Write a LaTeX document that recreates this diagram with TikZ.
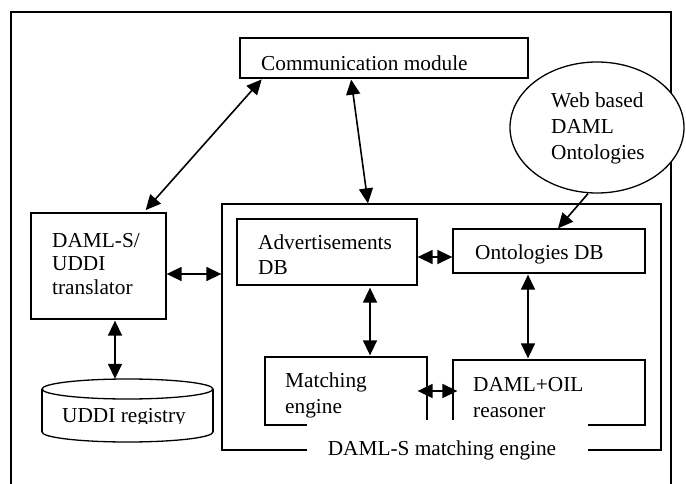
\documentclass[tikz,border=0pt]{standalone}
\usepackage{fontspec}
\setmainfont{Liberation Serif}
\usetikzlibrary{arrows.meta,shapes.geometric}
\begin{document}
\begin{tikzpicture}[x=1pt,y=-1pt,
  lw/.style={line width=1.3pt},
  box/.style={draw,lw,rectangle,inner sep=0pt},
  txt/.style={inner sep=0pt,anchor=base west,align=left,font=\fontsize{21.3}{25}\selectfont},
  tip/.tip={Triangle[length=15pt,width=14pt]},
  arr/.style={line width=1.6pt,tip-tip},
  arrone/.style={line width=1.6pt,-tip}]
\useasboundingbox (0,0) rectangle (686,484);
\fill[white] (0,0) rectangle (686,484);
% outer frame (no bottom edge visible)
\draw[lw] (11,484) -- (11,12) -- (671,12) -- (671,484);

% boxes
\node[box,minimum width=288pt,minimum height=40pt] (comm) at (384,58) {};
\node[draw,lw,ellipse,fill=white,inner sep=0pt,minimum width=174pt,minimum height=131pt] (web) at (597,127.5) {};
\node[box,minimum width=135pt,minimum height=106pt] (tr) at (98.5,266) {};
\node[box,minimum width=439pt,minimum height=246pt] (big) at (441.5,327) {};
\node[box,minimum width=180pt,minimum height=66pt] (adv) at (327,252) {};
\node[box,minimum width=192pt,minimum height=44pt] (ont) at (549,251) {};
\node[box,minimum width=162pt,minimum height=68pt] (match) at (346,391) {};
\node[box,minimum width=192pt,minimum height=65pt] (daml) at (549,392.5) {};

% cylinder: UDDI registry
\node[inner sep=0pt,minimum width=171pt,minimum height=63pt] (reg) at (127.5,410.5) {};
\draw[lw] (127.5,389) ellipse[x radius=85.5, y radius=10];
\draw[lw] (42,389) -- (42,432);
\draw[lw] (213,389) -- (213,432);
\begin{scope}
  \clip (30,432) rectangle (230,450);
  \draw[lw] (127.5,432) ellipse[x radius=85.5, y radius=10];
\end{scope}

% texts (base anchor = baseline of the last line)
\begin{scope}
  \clip (240,38) rectangle (528,71.5);
  \node[txt] (commt) at (261,71) {Communication module};
\end{scope}
\node[txt,font=\fontsize{21.3}{26}\selectfont] (webt) at (551,160) {Web based\\DAML\\Ontologies};
\node[txt,font=\fontsize{21.3}{23.5}\selectfont] (trt) at (52,294) {DAML-S/\\UDDI\\translator};
\node[txt] (advt) at (258,274) {Advertisements\\DB};
\node[txt] (ontt) at (475,259) {Ontologies DB};
\node[txt,font=\fontsize{21.3}{26}\selectfont] (matcht) at (285,413) {Matching\\engine};
\begin{scope}
  \clip (453,360) rectangle (645,418);
  \node[txt,font=\fontsize{21.3}{26}\selectfont] (damlt) at (473,417) {DAML+OIL\\reasoner};
\end{scope}
\begin{scope}
  \clip (42,379) rectangle (213,423);
  \node[txt] (regt) at (62,422) {UDDI registry};
\end{scope}

% connectors
\draw[arr,shorten <=1pt,shorten >=3pt] ([xshift=23pt]comm.south west) -- ([xshift=-23pt]tr.north east);
\draw[arr,shorten <=1pt] ([xshift=-33pt]comm.south) -- ([xshift=-73.5pt]big.north);
\draw[arrone] ([xshift=-9pt]web.south) -- ([xshift=9pt]ont.north);
\draw[arr] ([yshift=-8pt]tr.east) -- ([yshift=-8pt]tr.east -| big.west);
\draw[arr] ([yshift=-6pt]ont.west -| adv.east) -- ([yshift=-6pt]ont.west);
\draw[arr,shorten <=2pt,shorten >=1pt] ([xshift=43pt]adv.south) -- ([xshift=43pt]adv.south |- match.north);
\draw[arr,shorten <=1pt,shorten >=1pt] ([xshift=-21pt]ont.south) -- ([xshift=-21pt]ont.south |- daml.north);
\draw[arr] ([xshift=-10pt]match.east) -- ([xshift=5pt]match.east -| daml.west);
\draw[arr,shorten <=1pt] ([xshift=16.5pt]tr.south) -- ([xshift=16.5pt]tr.south |- reg.north);

% label over the bottom of the matching-engine frame
\fill[white] (307,420) rectangle (588,478);
\node[inner sep=0pt,anchor=base,font=\fontsize{21.3}{25}\selectfont] (lbl) at (442,455) {DAML-S matching engine};
\end{tikzpicture}
\end{document}
